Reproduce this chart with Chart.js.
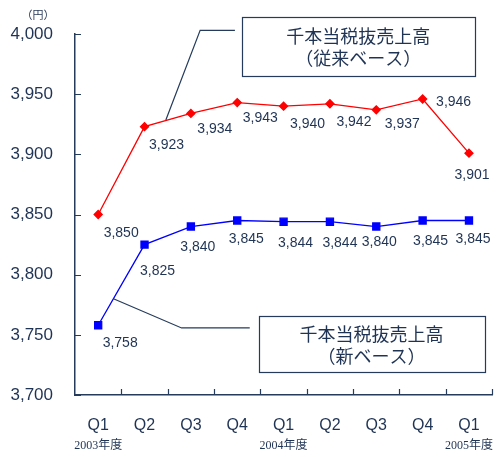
<!DOCTYPE html>
<html>
<head>
<meta charset="utf-8">
<script src="https://cdn.jsdelivr.net/npm/chart.js@4.4.1/dist/chart.umd.min.js"></script>
<style>
  html, body { margin: 0; padding: 0; background: #fff; }
  #wrap { width: 501px; height: 457px; position: relative; }
</style>
</head>
<body>
<div id="wrap"><canvas id="salesChart"></canvas></div>
<script>
// quarters and fiscal-year captions under them
const quarters = ['Q1', 'Q2', 'Q3', 'Q4', 'Q1', 'Q2', 'Q3', 'Q4', 'Q1'];
const fiscalYears = ['2003年度', '', '', '', '2004年度', '', '', '', '2005年度'];

// sales per thousand, tax excluded (yen)
const oldBasis = [3850, 3923, 3934, 3943, 3940, 3942, 3937, 3946, 3901];
const newBasis = [3758, 3825, 3840, 3845, 3844, 3844, 3840, 3845, 3845];

const yTicks = [3700, 3750, 3800, 3850, 3900, 3950, 4000];

const navy = '#1f3354';
const axisColor = '#243b5c';

// where each value label sits relative to its point (px)
const oldLabelOffsets = [[23, 19], [22, 18], [24, 16], [23, 16], [24, 18], [24, 18], [26, 14], [31, 3], [3, 22]];
const newLabelOffsets = [[22, 18], [13, 27], [7, 21], [9, 19], [12, 21], [10, 21], [3, 16], [8, 21], [4, 19]];

// callouts, in (category index, value) coordinates
const callouts = [
    {
        lines: ['千本当税抜売上高', '（従来ベース）'],
        leader: [[1.46, 3928.5], [2.2, 4003], [2.95, 4003]],
        box: [3.1, 4014, 8.12, 3965]
    },
    {
        lines: ['千本当税抜売上高', '（新ベース）'],
        leader: [[0.33, 3780], [1.8, 3755.7], [3.27, 3755.7]],
        box: [3.46, 3765.6, 8.33, 3719]
    }
];

const fmt = v => v.toLocaleString('en-US');

const decorations = {
    id: 'decorations',
    afterDraw(chart) {
        const ctx = chart.ctx;
        const x = chart.scales.x;
        const y = chart.scales.y;
        const area = chart.chartArea;
        ctx.save();

        // inward tick marks
        ctx.strokeStyle = axisColor;
        ctx.lineWidth = 1.2;
        ctx.beginPath();
        yTicks.forEach(v => {
            const py = Math.round(y.getPixelForValue(v)) + 0.5;
            ctx.moveTo(area.left, py);
            ctx.lineTo(area.left + 6, py);
        });
        for (let i = 1; i <= quarters.length; i++) {
            const px = Math.round(x.getPixelForValue(i - 0.5)) + 0.5;
            ctx.moveTo(px, area.bottom);
            ctx.lineTo(px, area.bottom - 6);
        }
        ctx.stroke();

        // unit caption
        ctx.fillStyle = navy;
        ctx.font = '11px "Noto Sans CJK JP"';
        ctx.textAlign = 'center';
        ctx.textBaseline = 'middle';
        ctx.fillText('（円）', 38, 15);

        // fiscal year captions
        ctx.font = '12px "Liberation Serif", "Noto Sans CJK JP"';
        fiscalYears.forEach((t, i) => {
            if (t) ctx.fillText(t, x.getPixelForValue(i), 446);
        });

        // value labels
        ctx.font = '14px "Liberation Sans", Arial';
        ctx.fillStyle = navy;
        [[0, oldLabelOffsets], [1, newLabelOffsets]].forEach(([di, offs]) => {
            const meta = chart.getDatasetMeta(di);
            meta.data.forEach((pt, i) => {
                const v = chart.data.datasets[di].data[i];
                ctx.fillText(fmt(v), pt.x + offs[i][0], pt.y + offs[i][1]);
            });
        });

        // callouts
        callouts.forEach(c => {
            ctx.strokeStyle = axisColor;
            ctx.lineWidth = 1.2;
            ctx.beginPath();
            c.leader.forEach(([ci, v], k) => {
                const px = x.getPixelForValue(ci);
                const py = y.getPixelForValue(v);
                if (k === 0) ctx.moveTo(px, py); else ctx.lineTo(px, py);
            });
            ctx.stroke();

            const l = x.getPixelForValue(c.box[0]);
            const t = y.getPixelForValue(c.box[1]);
            const r = x.getPixelForValue(c.box[2]);
            const b = y.getPixelForValue(c.box[3]);
            ctx.fillStyle = '#fff';
            ctx.fillRect(l, t, r - l, b - t);
            ctx.strokeRect(Math.round(l) + 0.5, Math.round(t) + 0.5, Math.round(r - l), Math.round(b - t));

            ctx.fillStyle = navy;
            ctx.font = '18px "Noto Sans CJK JP"';
            const cx = (l + r) / 2;
            const cy = (t + b) / 2;
            ctx.fillText(c.lines[0], cx, cy - 10);
            ctx.fillText(c.lines[1], cx, cy + 12);
        });

        ctx.restore();
    }
};

new Chart(document.getElementById('salesChart'), {
    type: 'line',
    data: {
        labels: quarters,
        datasets: [
            {
                label: '千本当税抜売上高（従来ベース）',
                data: oldBasis,
                borderColor: '#ff0000',
                backgroundColor: '#ff0000',
                borderWidth: 1.3,
                pointStyle: 'rectRot',
                pointRadius: 4,
                pointHoverRadius: 4,
                tension: 0
            },
            {
                label: '千本当税抜売上高（新ベース）',
                data: newBasis,
                borderColor: '#0000ff',
                backgroundColor: '#0000ff',
                borderWidth: 1.3,
                pointStyle: 'rect',
                pointRadius: 5,
                pointHoverRadius: 5,
                tension: 0
            }
        ]
    },
    options: {
        responsive: true,
        maintainAspectRatio: false,
        animation: false,
        layout: { padding: { top: 34, right: 3, left: 0, bottom: 0 } },
        plugins: {
            legend: { display: false },
            tooltip: { enabled: false }
        },
        scales: {
            x: {
                offset: true,
                grid: { display: false, drawTicks: false },
                border: { color: axisColor, width: 1.5 },
                ticks: {
                    color: navy,
                    padding: 21,
                    font: { family: '"Liberation Sans", Arial', size: 16 }
                },
                afterFit(scale) { scale.height = 62; }
            },
            y: {
                min: 3700,
                max: 4000,
                afterBuildTicks(scale) { scale.ticks = yTicks.map(v => ({ value: v })); },
                grid: { display: false, drawTicks: false },
                border: { color: axisColor, width: 1.5 },
                ticks: {
                    color: navy,
                    padding: 22,
                    font: { family: '"Liberation Sans", Arial', size: 17 },
                    callback: v => fmt(v)
                },
                afterFit(scale) { scale.width = 75; }
            }
        }
    },
    plugins: [decorations]
});
</script>
</body>
</html>
